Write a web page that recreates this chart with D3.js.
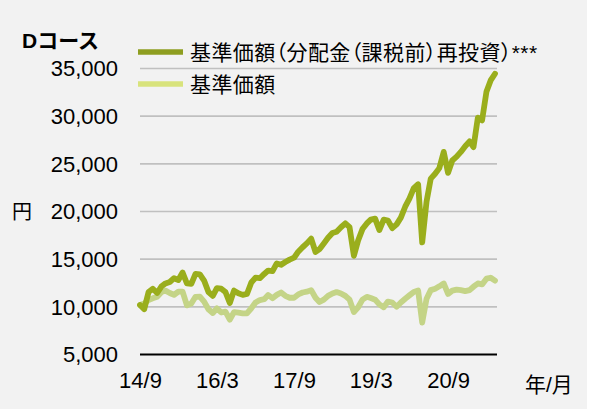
<!DOCTYPE html>
<html><head><meta charset="utf-8">
<script src="https://cdn.jsdelivr.net/npm/d3@7"></script>
<style>
html,body{margin:0;padding:0;background:#fff;}
svg{display:block;}
text{font-family:"Liberation Sans",Arial,"Noto Sans CJK JP",sans-serif;fill:#000;}
</style></head><body>
<svg id="c" width="596" height="409"></svg>
<script>
// ---- data ----
const title = "Dコース";
const seriesNames = ["基準価額（分配金（課税前）再投資）***", "基準価額"];
const firstMonth = "2014-09";
const lastMonth = "2021-08";
// monthly values (円)
const reinvested = [
  10140, 9700, 11500, 11850, 11400, 12100, 12400, 12550, 12950, 12760,
  13550, 12400, 12350, 13400, 13350, 12700, 11500, 11100, 11900, 11850,
  11500, 10350, 11650, 11370, 11200, 11300, 12500, 13000, 12950, 13400,
  13750, 13700, 14500, 14350, 14650, 14900, 15100, 15730, 16200, 16600,
  17100, 15700, 16000, 16600, 17200, 17700, 17830, 18300, 18700, 18300,
  15300, 16900, 18100, 18700, 19100, 19200, 18000, 19100, 19000, 18200,
  18600, 19300, 20450, 21300, 22400, 22800, 16700, 21000, 23400, 23900,
  24500, 26200, 24000, 25300, 25700, 26200, 26800, 27300, 26700, 29800,
  29500, 32500, 33700, 34400
];
const nav = [
  10140, 10300, 10660, 10840, 11000, 11500, 11650, 11400, 11200, 11540,
  11540, 10100, 10300, 11000, 11010, 10500, 9700, 9300, 9790, 9350,
  9440, 8600, 9400, 9350, 9270, 9270, 9800, 10400, 10660, 10750,
  11190, 10850, 11200, 11450, 11100, 10900, 10900, 11250, 11450, 11540,
  11700, 10900, 10450, 10700, 11100, 11350, 11500, 11350, 11100, 10700,
  9400, 9900, 10700, 11000, 10870, 10700, 10200, 9900, 10500, 10400,
  9960, 10400, 10800, 11150, 11500, 11650, 8300, 10800, 11700, 11850,
  12100, 12400, 11300, 11650, 11750, 11700, 11600, 11700, 12060, 12400,
  12300, 12900, 13000, 12700
];
const yTicks = [5000, 10000, 15000, 20000, 25000, 30000, 35000];
const xTickMonths = ["2014-09", "2016-03", "2017-09", "2019-03", "2020-09"];
const xTickLabels = ["14/9", "16/3", "17/9", "19/3", "20/9"];
const yUnit = "円";
const xUnit = "年/月";

// ---- drawing ----
const parse = d3.timeParse("%Y-%m");
const months = d3.timeMonth.range(parse(firstMonth), d3.timeMonth.offset(parse(lastMonth), 1));
const svg = d3.select("#c");
svg.append("rect").attr("x", 0).attr("y", 0).attr("width", 587).attr("height", 409).attr("fill", "#f2f2f2");

const plotL = 140, plotR = 497, yTop = 68, yBot = 354;
const x = d3.scaleTime().domain([parse(firstMonth), parse(lastMonth)]).range([140, 495]);
const y = d3.scaleLinear().domain([5000, 35000]).range([yBot, yTop]);

// y axis with grid
const gy = svg.append("g").attr("transform", `translate(${plotL},0)`)
  .call(d3.axisLeft(y).tickValues(yTicks).tickSize(-(plotR - plotL)).tickPadding(22)
    .tickFormat(d3.format(",")));
gy.select(".domain").remove();
gy.selectAll(".tick line").attr("stroke", d => d === 5000 ? "#000" : "#c0c0c0")
  .attr("stroke-width", d => d === 5000 ? 2.2 : 1.6);
gy.selectAll(".tick text").attr("font-size", 22).attr("fill", "#000")
  .attr("font-family", '"Liberation Sans",Arial,sans-serif').attr("dy", "0.36em");

// x axis labels
const gx = svg.append("g").attr("transform", `translate(0,${yBot})`)
  .call(d3.axisBottom(x).tickValues(xTickMonths.map(parse)).tickSize(0).tickPadding(18)
    .tickFormat((d, i) => xTickLabels[i]));
gx.select(".domain").remove();
gx.selectAll(".tick text").attr("font-size", 22).attr("fill", "#000")
  .attr("font-family", '"Liberation Sans",Arial,sans-serif');

// lines
const line = d3.line().x((d, i) => x(months[i])).y(d => y(d)).curve(d3.curveLinear);
svg.append("path").datum(nav).attr("d", line).attr("fill", "none")
  .attr("stroke", "#c4d487").attr("stroke-width", 5.8).attr("stroke-linejoin", "round").attr("stroke-linecap", "round");
svg.append("path").datum(reinvested).attr("d", line).attr("fill", "none")
  .attr("stroke", "#9aae1c").attr("stroke-width", 5.8).attr("stroke-linejoin", "round").attr("stroke-linecap", "round");

// title & units
svg.append("text").attr("x", 22).attr("y", 48).attr("font-size", 21).attr("font-weight", "bold").text(title);
svg.append("text").attr("x", 12).attr("y", 219).attr("font-size", 20)
  .attr("font-family", '"Noto Sans CJK JP",sans-serif').text(yUnit);
svg.append("text").attr("x", 525).attr("y", 392).attr("font-size", 21).text(xUnit);

// legend
const legendColors = ["#8e9e20", "#d8e37c"];
const legendY = [52, 84];
seriesNames.forEach((n, i) => {
  svg.append("line").attr("x1", 138).attr("x2", 183).attr("y1", legendY[i]).attr("y2", legendY[i])
    .attr("stroke", legendColors[i]).attr("stroke-width", 5.5);
  svg.append("text").attr("x", 190).attr("y", legendY[i] + 8).attr("font-size", 21)
    .style("font-feature-settings", '"palt"').style("letter-spacing", "0.4px")
    .attr("font-family", '"Noto Sans CJK JP",sans-serif').text(n);
});
</script>
</body></html>
